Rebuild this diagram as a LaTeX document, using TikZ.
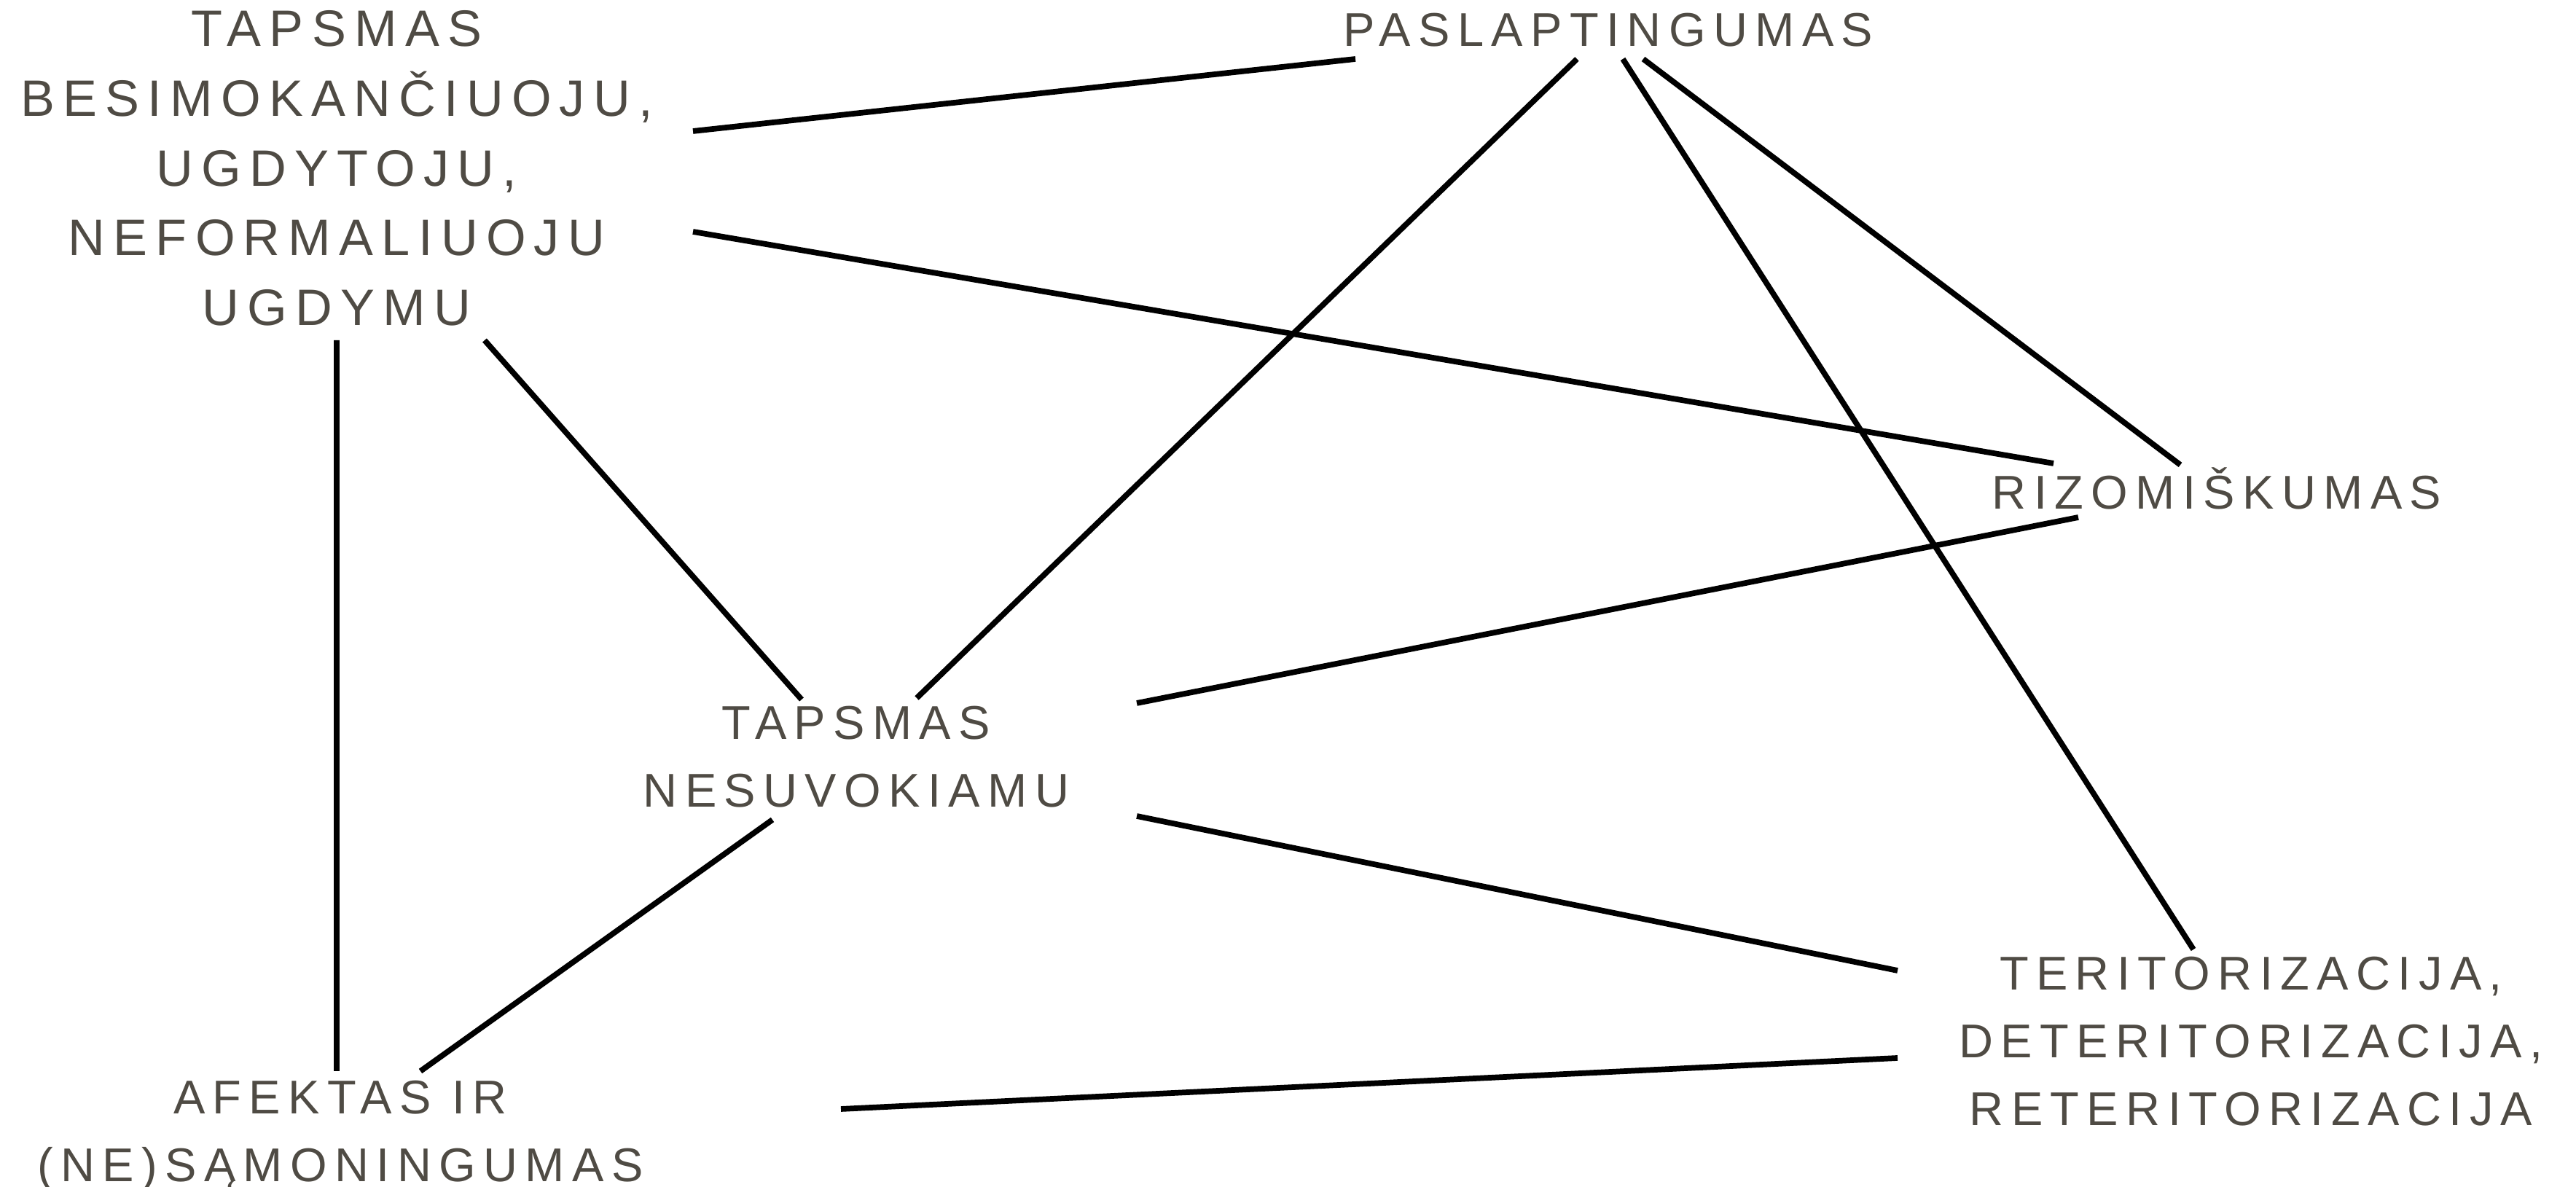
\documentclass[tikz,border=0pt]{standalone}
\usepackage{fontspec}
\setmainfont{Liberation Sans}[LetterSpace=16]
\usepackage{tikz}
\usetikzlibrary{positioning}
\usepackage{xcolor}
\definecolor{inkgray}{HTML}{4F4B44}

\tikzset{
    concept/.style={text=inkgray, align=center, inner sep=0pt,
        font=\fontsize{18.5}{26.5}\selectfont},
    bigconcept/.style={concept, font=\fontsize{20}{27.2}\selectfont},
    link/.style={draw=black, line width=2.2pt, line cap=butt}
}

\begin{document}
\begin{tikzpicture}
    \useasboundingbox (0,0) rectangle (35.35,16.29);

    \node[bigconcept] (besimok) at (4.62,13.98) {TAPSMAS\\BESIMOKANČIUOJU,\\UGDYTOJU,\\NEFORMALIUOJU\\UGDYMU};
    \node[concept] (paslapt) at (22.07,15.88) {PASLAPTINGUMAS};
    \node[concept] (rizom) at (30.42,9.59) {RIZOMIŠKUMAS};
    \node[concept] (nesuvok) at (11.75,5.90) {TAPSMAS\\NESUVOKIAMU};
    \node[concept] (terit) at (30.89,2.00) {TERITORIZACIJA,\\DETERITORIZACIJA,\\RETERITORIZACIJA};
    \node[concept] (afekt) at (4.67,0.70) {AFEKTAS IR\\(NE)SĄMONINGUMAS};

    \path[link]
        ([shift={(4.89,0.51)}]besimok.center) edge ([shift={(-3.47,-0.40)}]paslapt.center)
        ([shift={(4.89,-0.87)}]besimok.center) edge ([shift={(-2.24,0.34)}]rizom.center)
        ([shift={(0,-2.36)}]besimok.center) edge ([shift={(-0.05,0.89)}]afekt.center)
        ([shift={(2.03,-2.36)}]besimok.center) edge ([shift={(-0.75,0.79)}]nesuvok.center)
        ([shift={(-0.43,-0.40)}]paslapt.center) edge ([shift={(0.83,0.81)}]nesuvok.center)
        ([shift={(0.20,-0.40)}]paslapt.center) edge ([shift={(-0.79,1.26)}]terit.center)
        ([shift={(0.48,-0.40)}]paslapt.center) edge ([shift={(-0.50,0.32)}]rizom.center)
        ([shift={(-1.90,-0.40)}]rizom.center) edge ([shift={(3.85,0.74)}]nesuvok.center)
        ([shift={(3.85,-0.81)}]nesuvok.center) edge ([shift={(-4.85,0.97)}]terit.center)
        ([shift={(-1.15,-0.86)}]nesuvok.center) edge ([shift={(1.10,0.89)}]afekt.center)
        ([shift={(6.87,0.37)}]afekt.center) edge ([shift={(-4.85,-0.23)}]terit.center);
\end{tikzpicture}
\end{document}
